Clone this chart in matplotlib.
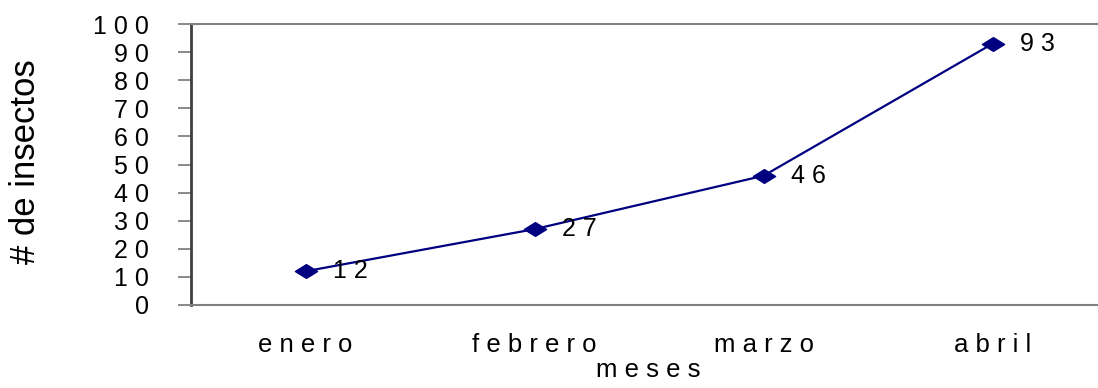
import matplotlib
matplotlib.use("Agg")
import matplotlib.pyplot as plt
from matplotlib.path import Path

# datos
meses = ["enero", "febrero", "marzo", "abril"]
insectos = [12, 27, 46, 93]
yticks = list(range(0, 101, 10))


def spaced(s):
    # el original separa cada carácter
    return " ".join(str(s))


plt.rcParams["font.family"] = ["Liberation Sans", "DejaVu Sans"]

fig = plt.figure(figsize=(10.98, 3.88), dpi=100)
ax = fig.add_axes([191 / 1098, 83 / 388, 907 / 1098, 281 / 388])

diamond = Path([(-1, 0), (0, 0.62), (1, 0), (0, -0.62), (-1, 0)],
               [Path.MOVETO, Path.LINETO, Path.LINETO, Path.LINETO, Path.CLOSEPOLY])
x = list(range(len(meses)))
ax.plot(x, insectos, color="#000080", lw=1.6, marker=diamond, ms=16,
        mfc="#000080", mec="#000080")
for xi, v in zip(x, insectos):
    ax.annotate(spaced(v), (xi, v), xytext=(20, 0), textcoords="offset points",
                va="center", ha="left", fontsize=18, color="black")

ax.set_xlim(-0.5, 3.46)
ax.set_ylim(0, 100)
ax.set_yticks(yticks)
ax.set_yticklabels([spaced(t) for t in yticks], fontsize=18)
ax.set_xticks(x)
ax.set_xticklabels([spaced(m) for m in meses], fontsize=18.5)
ax.tick_params(axis="y", length=9.4, width=1.3, color="#808080", pad=21)
ax.tick_params(axis="x", length=0, pad=20)
ax.set_xlabel(spaced("meses"), fontsize=18.5)
ax.xaxis.set_label_coords(0.504, -0.19)
ax.set_ylabel("# de insectos", fontsize=25)
ax.yaxis.set_label_coords(-0.164, 0.51)

for s in ("top", "bottom"):
    ax.spines[s].set_color("#808080")
    ax.spines[s].set_linewidth(1.5)
ax.spines["left"].set_color("#404040")
ax.spines["left"].set_linewidth(2)
ax.spines["right"].set_visible(False)

fig.savefig("out.png", dpi=100)
